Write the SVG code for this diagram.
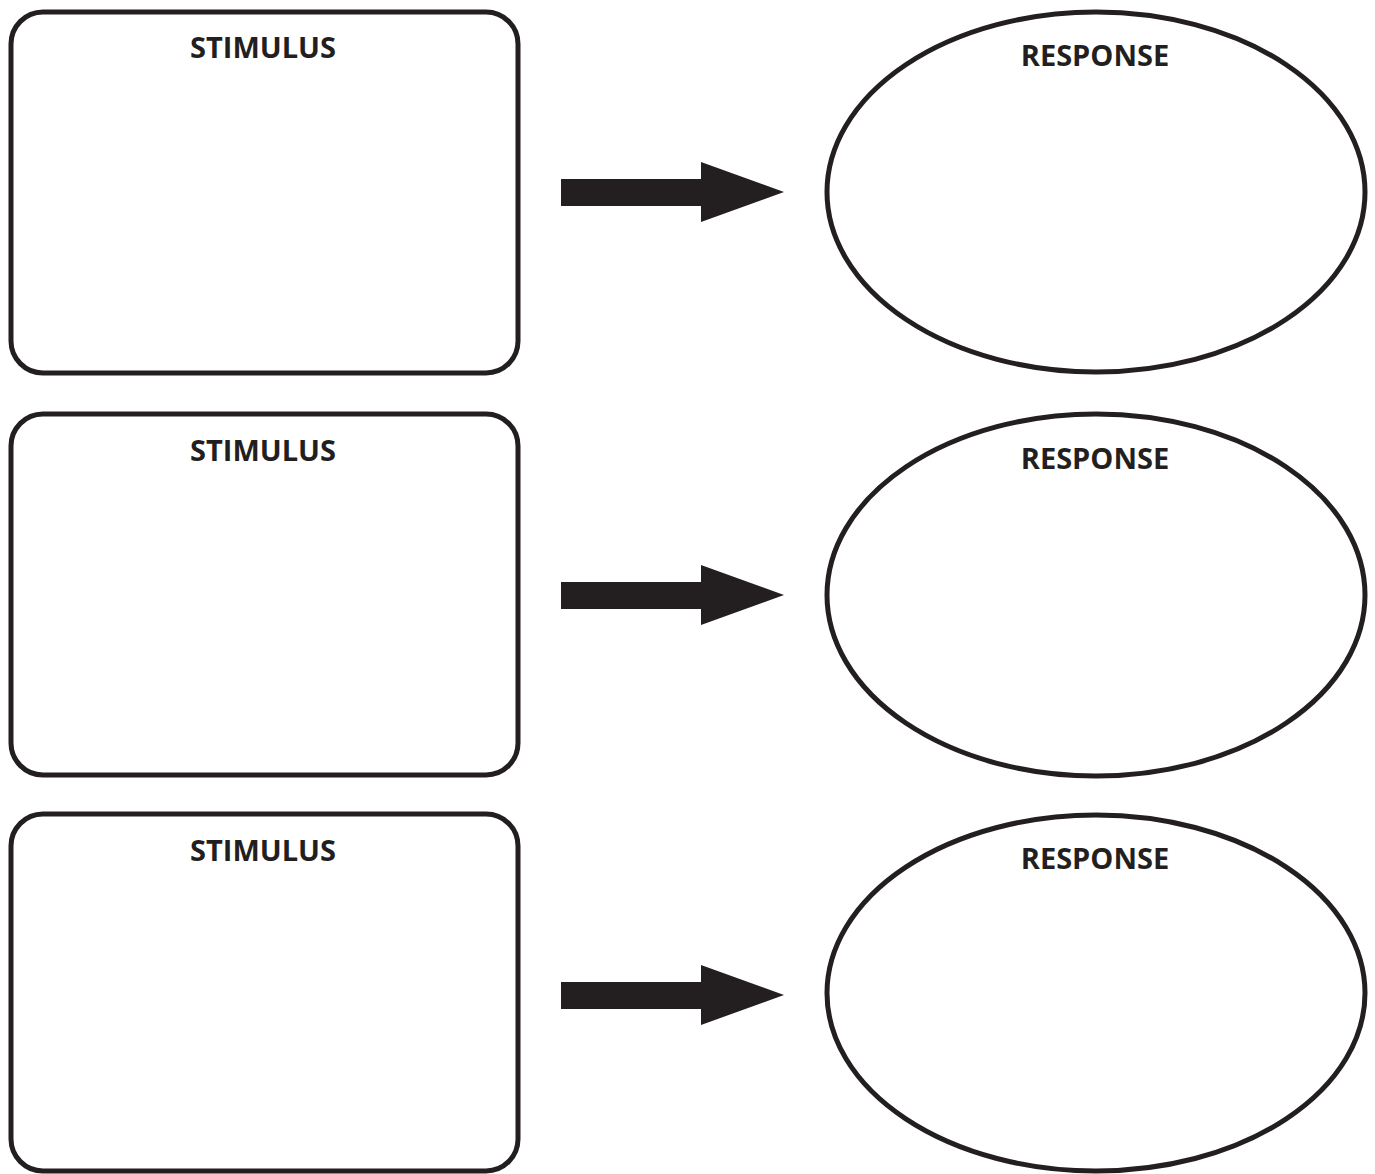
<svg xmlns="http://www.w3.org/2000/svg" width="1375" height="1174" viewBox="0 0 1375 1174">
<style>
.box{fill:#fff;stroke:#231f20;stroke-width:5}
.lbl{font-family:"Open Sans","Liberation Sans",sans-serif;font-weight:bold;font-size:29px;fill:#231f20;text-anchor:middle}
.arr{fill:#231f20}
</style>
<rect width="1375" height="1174" fill="#fff"/>
<g id="stimulus1"><rect class="box" x="11" y="12" width="507" height="361" rx="32"/><text class="lbl" x="263" y="58">STIMULUS</text></g>
<g id="stimulus2"><rect class="box" x="11" y="414" width="507" height="361" rx="32"/><text class="lbl" x="263" y="461">STIMULUS</text></g>
<g id="stimulus3"><rect class="box" x="11" y="814" width="507" height="357" rx="32"/><text class="lbl" x="263" y="861">STIMULUS</text></g>
<g id="response1"><ellipse class="box" cx="1096" cy="192" rx="269" ry="180"/><text class="lbl" x="1095" y="66">RESPONSE</text></g>
<g id="response2"><ellipse class="box" cx="1096" cy="595" rx="269" ry="181"/><text class="lbl" x="1095" y="469">RESPONSE</text></g>
<g id="response3"><ellipse class="box" cx="1096" cy="993" rx="269" ry="178"/><text class="lbl" x="1095" y="869">RESPONSE</text></g>
<g id="connectors">
<polygon class="arr" points="561,179 701,179 701,162 784,192 701,222 701,206 561,206"/>
<polygon class="arr" points="561,582 701,582 701,565 784,595 701,625 701,609 561,609"/>
<polygon class="arr" points="561,982 701,982 701,965 784,995 701,1025 701,1009 561,1009"/>
</g>
</svg>
